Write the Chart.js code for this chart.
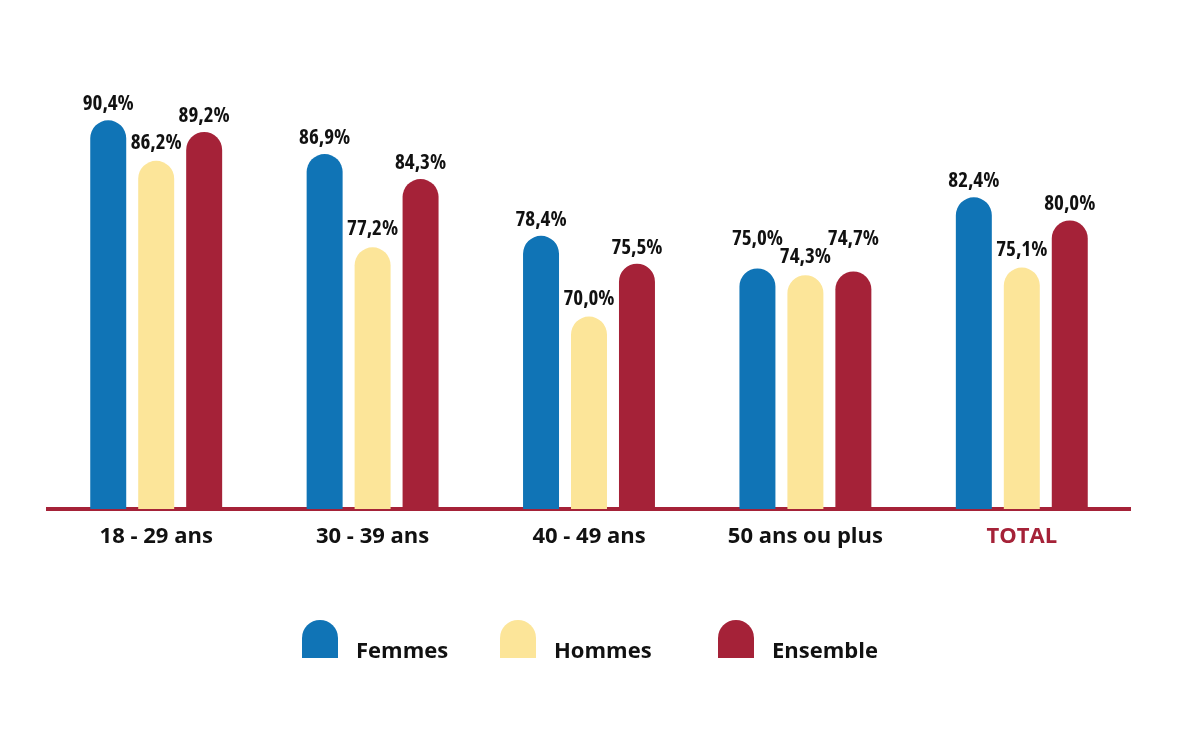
<!DOCTYPE html>
<html>
<head>
<meta charset="utf-8">
<script src="https://cdn.jsdelivr.net/npm/chart.js@4.4.1/dist/chart.umd.min.js"></script>
<style>
  html, body { margin: 0; padding: 0; background: #ffffff; }
  #wrap { position: relative; width: 1200px; height: 729px; }
</style>
</head>
<body>
<div id="wrap"><canvas id="c" width="1200" height="729"></canvas></div>
<script>
const categories = ["18 - 29 ans", "30 - 39 ans", "40 - 49 ans", "50 ans ou plus", "TOTAL"];
const seriesNames = ["Femmes", "Hommes", "Ensemble"];
const femmes = [90.4, 86.9, 78.4, 75.0, 82.4];
const hommes = [86.2, 77.2, 70.0, 74.3, 75.1];
const ensemble = [89.2, 84.3, 75.5, 74.7, 80.0];
const seriesColors = ["#1074b6", "#fce599", "#a52238"];

const fmt = v => v.toFixed(1).replace('.', ',') + '%';

const valueLabels = {
  id: 'valueLabels',
  afterDatasetsDraw(chart) {
    const ctx = chart.ctx;
    ctx.save();
    ctx.font = 'condensed bold 21px "Open Sans"';
    try { ctx.fontStretch = 'condensed'; } catch (e) {}
    ctx.fillStyle = '#111111';
    ctx.textAlign = 'center';
    ctx.textBaseline = 'alphabetic';
    const n = chart.data.labels.length;
    const metas = chart.data.datasets.map((ds, di) => chart.getDatasetMeta(di));
    for (let i = 0; i < n; i++) {
      const ys = metas.map(m => m.data[i].y - 10);
      // avoid collisions: keep middle label, lift outer labels when too close
      const mid = ys[1] - 2;
      ys[1] = mid;
      [0, 2].forEach(k => {
        if (mid - ys[k] < 18) ys[k] = mid - 18;
      });
      chart.data.datasets.forEach((ds, di) => {
        const bar = metas[di].data[i];
        ctx.fillText(fmt(ds.data[i]), bar.x, ys[di]);
      });
    }
    ctx.restore();
  }
};

const customLegend = {
  id: 'customLegend',
  afterDraw(chart) {
    const ctx = chart.ctx;
    const boxX = [302, 500, 718];
    const top = 620, bottom = 658, w = 36, r = 18;
    ctx.save();
    ctx.font = 'bold 22px "Open Sans"';
    ctx.textBaseline = 'alphabetic';
    ctx.textAlign = 'left';
    chart.data.datasets.forEach((ds, i) => {
      const x = boxX[i];
      ctx.fillStyle = ds.backgroundColor;
      ctx.beginPath();
      ctx.moveTo(x, bottom);
      ctx.lineTo(x, top + r);
      ctx.arc(x + r, top + r, r, Math.PI, 0);
      ctx.lineTo(x + w, bottom);
      ctx.closePath();
      ctx.fill();
      ctx.fillStyle = '#111111';
      ctx.fillText(ds.label, x + w + 18, bottom);
    });
    ctx.restore();
  }
};

const mk = (i, data) => ({
  label: seriesNames[i],
  data: data,
  backgroundColor: seriesColors[i],
  borderRadius: { topLeft: 18, topRight: 18, bottomLeft: 0, bottomRight: 0 },
  borderSkipped: 'bottom',
  barPercentage: 0.75,
  categoryPercentage: 0.665
});

new Chart(document.getElementById('c'), {
  type: 'bar',
  data: {
    labels: categories,
    datasets: [mk(0, femmes), mk(1, hommes), mk(2, ensemble)]
  },
  options: {
    responsive: false,
    animation: false,
    devicePixelRatio: 1,
    layout: { padding: { left: 48, right: 70, top: 28, bottom: 160 } },
    plugins: { legend: { display: false }, tooltip: { enabled: false } },
    scales: {
      x: {
        grid: { display: false, drawTicks: false },
        border: { display: true, color: '#a52238', width: 4 },
        afterFit(scale) { scale.height = 60; },
        ticks: {
          padding: 15,
          font: { family: '"Open Sans"', weight: 'bold', size: 22 },
          color: ctx => ctx.index === 4 ? '#a52238' : '#111111'
        }
      },
      y: {
        display: false,
        min: 50,
        max: 100
      }
    }
  },
  plugins: [valueLabels, customLegend]
});
</script>
</body>
</html>
